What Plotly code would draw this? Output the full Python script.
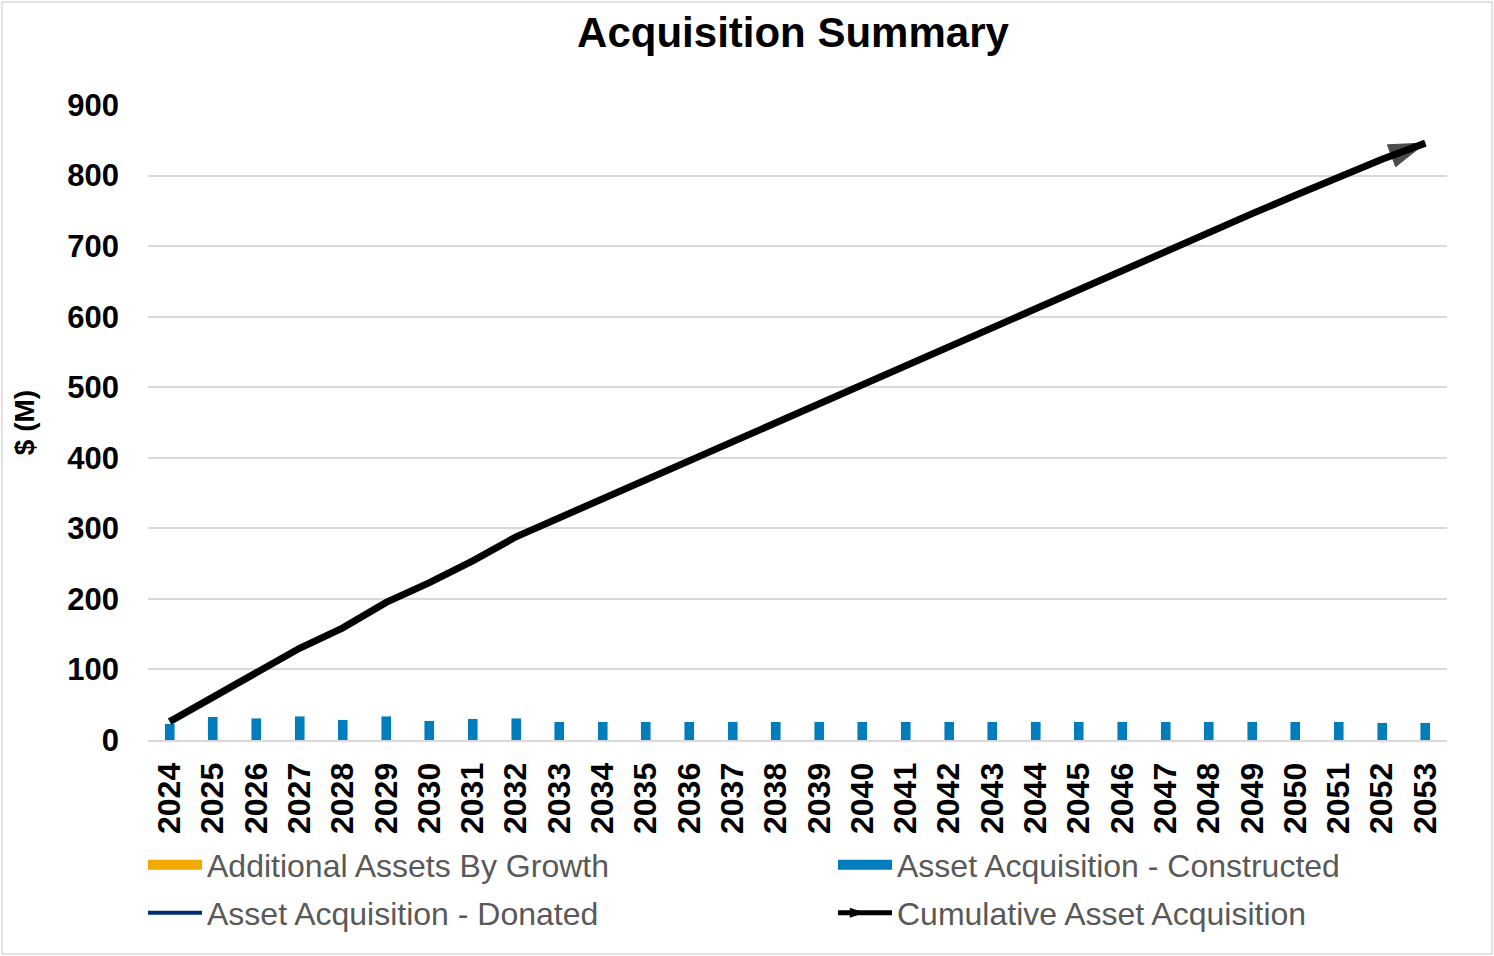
import plotly.graph_objects as go

years = [str(y) for y in range(2024, 2054)]

# values, $ (M)
growth = [0] * 30
constructed = [23, 33, 31, 34, 29, 34, 27, 30, 31, 26,
               26, 26, 26, 26, 26, 26, 26, 26, 26, 26,
               26, 26, 26, 26, 26, 26, 26, 26, 24.5, 24.5]
donated = [None] * 30
cumulative = [26, 61, 95, 130, 159, 195, 223, 254, 288, 315,
              342, 369, 396, 423, 450, 477, 504, 531, 558, 585,
              612, 640, 667, 694, 720, 746, 772, 798, 823, 846]

y_ticks = [0, 100, 200, 300, 400, 500, 600, 700, 800, 900]

ORANGE = "#F2A900"
BLUE = "#007DBA"
NAVY = "#002D72"
FONT = "Liberation Sans, Arial, sans-serif"

fig = go.Figure()
fig.add_trace(go.Bar(x=years, y=growth, name="Additional Assets By Growth",
                     marker_color=ORANGE, width=0.23, showlegend=False))
fig.add_trace(go.Bar(x=years, y=constructed, name="Asset Acquisition - Constructed",
                     marker_color=BLUE, width=0.23, showlegend=False))
fig.add_trace(go.Scatter(x=years, y=donated, name="Asset Acquisition - Donated",
                         mode="lines", line=dict(color=NAVY, width=4), legend="legend2"))

# arrow head only on the last point
sizes = [0] * (len(years) - 1) + [38]
fig.add_trace(go.Scatter(x=years, y=cumulative, name="Cumulative Asset Acquisition",
                         mode="lines+markers", line=dict(color="black", width=7),
                         marker=dict(symbol="arrow", angleref="previous", size=sizes,
                                     color="black", line=dict(color="black", width=1)),
                         showlegend=False))

# legend-only entries (wide swatches for the bars, arrow for the cumulative line)
fig.add_trace(go.Scatter(x=[None], y=[None], name="Additional Assets By Growth",
                         mode="lines", line=dict(color=ORANGE, width=16), legend="legend"))
fig.add_trace(go.Scatter(x=[None], y=[None], name="Asset Acquisition - Constructed",
                         mode="lines", line=dict(color=BLUE, width=16), legend="legend"))
fig.add_trace(go.Scatter(x=[None], y=[None], name="Cumulative Asset Acquisition",
                         mode="lines+markers", line=dict(color="black", width=5),
                         marker=dict(symbol="arrow", angle=90, size=18, color="black"),
                         legend="legend2"))

W, H = 1494, 956
L, R, T, B = 148, 47, 105, 216
pw, ph = W - L - R, H - T - B

leg = dict(orientation="h", x=-5 / pw, xanchor="left", yanchor="middle",
           font=dict(size=32, color="#595959"), entrywidth=621,
           itemwidth=54, traceorder="normal", bgcolor="rgba(0,0,0,0)")

fig.update_layout(
    width=W, height=H,
    margin=dict(l=L, r=R, t=T, b=B, autoexpand=False),
    paper_bgcolor="white", plot_bgcolor="white",
    barmode="stack",
    font=dict(family=FONT, color="black"),
    title=dict(text="<b>Acquisition Summary</b>", font=dict(size=42, color="black"),
               x=793 / W, xref="container", xanchor="center",
               y=1 - 32 / H, yref="container", yanchor="middle"),
    legend=dict(leg, y=-(865 - (H - B)) / ph),
    legend2=dict(leg, y=-(913 - (H - B)) / ph),
    shapes=[dict(type="rect", xref="paper", yref="paper",
                 x0=-(L - 2) / pw, x1=1 + (R - 2) / pw,
                 y0=-(B - 2) / ph, y1=1 + (T - 2) / ph,
                 line=dict(color="#D9D9D9", width=1.5), layer="below")],
)

fig.update_xaxes(type="category", range=[-0.5, len(years) - 0.5], tickangle=-90,
                 showgrid=False, automargin=False,
                 showline=True, linecolor="#D9D9D9", linewidth=2,
                 tickfont=dict(size=32, color="black", weight="bold"),
                 ticks="", ticklabelstandoff=8)
fig.update_yaxes(range=[0, 900], tickvals=y_ticks, showgrid=True, automargin=False,
                 gridcolor="#D9D9D9", gridwidth=1.5, zeroline=False, showline=False,
                 tickfont=dict(size=31, color="black", weight="bold"),
                 ticks="", ticklabelstandoff=28,
                 title=dict(text="<b>$ (M)</b>", font=dict(size=28, color="black"), standoff=24))

fig.write_html("out.html", config={"displayModeBar": False},
               post_script="document.body.style.margin='0';")
